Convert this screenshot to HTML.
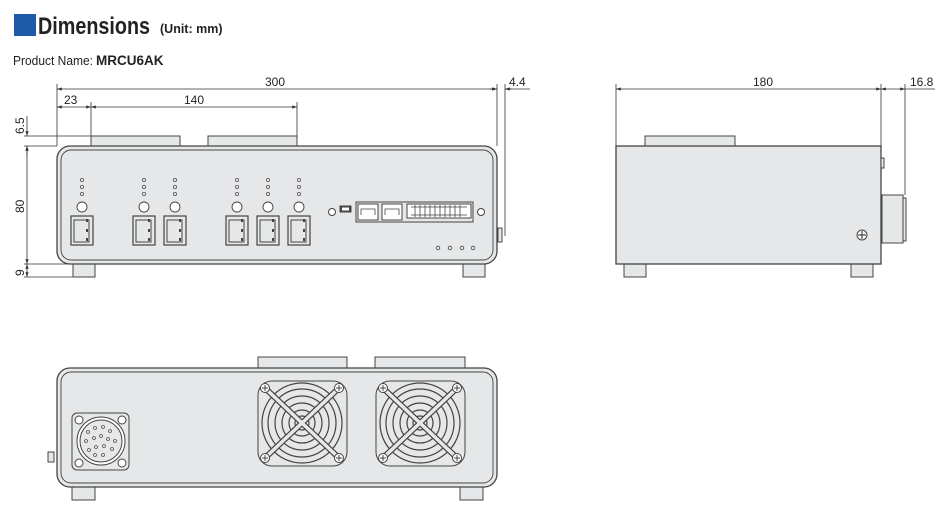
<!DOCTYPE html>
<html><head><meta charset="utf-8"><style>
html,body{margin:0;padding:0;background:#fff;}
svg{display:block;font-family:"Liberation Sans",sans-serif;}
</style></head><body>
<svg width="950" height="507" viewBox="0 0 950 507" xmlns="http://www.w3.org/2000/svg">
<defs>
<marker id="a" markerWidth="6" markerHeight="4" refX="6" refY="2" orient="auto-start-reverse"><path d="M0,0 L6,2 L0,4 z" fill="#333"/></marker>
<g id="led"><circle cx="0" cy="0" r="1.6" fill="none" stroke="#555" stroke-width="0.8"/><circle cx="0" cy="7" r="1.6" fill="none" stroke="#555" stroke-width="0.8"/><circle cx="0" cy="14" r="1.6" fill="none" stroke="#555" stroke-width="0.8"/><circle cx="0" cy="27" r="5" fill="#fff" stroke="#444" stroke-width="0.9"/><rect x="-4" y="36" width="22" height="29" fill="#e6e7e8" stroke="#444" stroke-width="1.2" transform="translate(-7,0)"/><rect x="-8" y="40" width="15" height="22" fill="none" stroke="#444" stroke-width="1"/><rect x="4" y="39" width="2" height="3" fill="#444"/><rect x="4" y="49" width="2" height="3" fill="#444"/><rect x="4" y="58" width="2" height="3" fill="#444"/></g>
<g id="fan"><rect x="-44" y="-42" width="89" height="85" rx="14" fill="#e6e7e8" stroke="#444" stroke-width="1"/>
<circle r="40" fill="none" stroke="#444" stroke-width="1.2"/><circle r="34" fill="none" stroke="#444" stroke-width="1.2"/><circle r="27" fill="none" stroke="#444" stroke-width="1.2"/><circle r="20" fill="none" stroke="#444" stroke-width="1.2"/><circle r="13" fill="none" stroke="#444" stroke-width="1.2"/><circle r="7" fill="none" stroke="#444" stroke-width="1.2"/>
<g stroke="#444" stroke-width="6" stroke-linecap="round"><line x1="-36" y1="-34" x2="36" y2="34"/><line x1="36" y1="-34" x2="-36" y2="34"/></g>
<g stroke="#e6e7e8" stroke-width="3.6" stroke-linecap="round"><line x1="-36" y1="-34" x2="36" y2="34"/><line x1="36" y1="-34" x2="-36" y2="34"/></g>
<g fill="#fff" stroke="#444" stroke-width="1"><circle cx="-37" cy="-35" r="4.5"/><circle cx="37" cy="-35" r="4.5"/><circle cx="-37" cy="35" r="4.5"/><circle cx="37" cy="35" r="4.5"/></g>
<g stroke="#444" stroke-width="1"><path d="M-40,-35h6M-37,-38v6M34,-35h6M37,-38v6M-40,35h6M-37,32v6M34,35h6M37,32v6"/></g></g>
</defs>

<!-- header -->
<rect x="14" y="14" width="22" height="22" fill="#1d5ba8"/>
<text x="38" y="34" font-size="24" font-weight="bold" fill="#222" textLength="112" lengthAdjust="spacingAndGlyphs">Dimensions</text>
<text x="160" y="33" font-size="12.5" font-weight="bold" fill="#222">(Unit: mm)</text>
<text x="13" y="65" font-size="13" fill="#222" textLength="80" lengthAdjust="spacingAndGlyphs">Product Name:</text>
<text x="96" y="65" font-size="13.5" font-weight="bold" fill="#222">MRCU6AK</text>

<g fill="none" stroke="#333" stroke-width="0.8">
<!-- front view dims -->
<line x1="57" y1="84" x2="57" y2="146"/><line x1="497" y1="84" x2="497" y2="146"/>
<line x1="57" y1="89" x2="497" y2="89" marker-start="url(#a)" marker-end="url(#a)"/>
<line x1="91" y1="102" x2="91" y2="136"/><line x1="297" y1="102" x2="297" y2="136"/>
<line x1="57" y1="107" x2="91" y2="107" marker-start="url(#a)" marker-end="url(#a)"/>
<line x1="91" y1="107" x2="297" y2="107" marker-start="url(#a)" marker-end="url(#a)"/>
<line x1="505" y1="84" x2="505" y2="236"/>
<line x1="490" y1="89" x2="497" y2="89" marker-end="url(#a)"/><line x1="512" y1="89" x2="505" y2="89" marker-end="url(#a)"/>
<line x1="505" y1="89" x2="530" y2="89"/>
<line x1="24" y1="136" x2="91" y2="136"/><line x1="24" y1="146" x2="57" y2="146"/>
<line x1="24" y1="264" x2="73" y2="264"/><line x1="24" y1="277" x2="73" y2="277"/>
<line x1="27" y1="116" x2="27" y2="136" marker-end="url(#a)"/><line x1="27" y1="156" x2="27" y2="146" marker-end="url(#a)"/>
<line x1="27" y1="146" x2="27" y2="264" marker-start="url(#a)" marker-end="url(#a)"/>
<line x1="27" y1="264" x2="27" y2="277" marker-start="url(#a)" marker-end="url(#a)"/>
<!-- side view dims -->
<line x1="616" y1="84" x2="616" y2="146"/><line x1="881" y1="84" x2="881" y2="146"/><line x1="905" y1="84" x2="905" y2="195"/>
<line x1="616" y1="89" x2="881" y2="89" marker-start="url(#a)" marker-end="url(#a)"/>
<line x1="881" y1="89" x2="905" y2="89" marker-start="url(#a)" marker-end="url(#a)"/>
<line x1="905" y1="89" x2="935" y2="89"/>
</g>
<g font-size="12" fill="#222">
<text x="265" y="86">300</text><text x="64" y="104">23</text><text x="184" y="104">140</text><text x="509" y="86">4.4</text>
<text x="753" y="86">180</text><text x="910" y="86">16.8</text>
<text transform="translate(24,134) rotate(-90)">6.5</text>
<text transform="translate(24,213) rotate(-90)">80</text>
<text transform="translate(24,276) rotate(-90)">9</text>
</g>

<!-- FRONT VIEW -->
<g stroke="#444" stroke-width="1" fill="#e6e7e8">
<rect x="91" y="136" width="89" height="10"/><rect x="208" y="136" width="89" height="10"/>
<rect x="73" y="264" width="22" height="13"/><rect x="463" y="264" width="22" height="13"/>
<rect x="498" y="228" width="4" height="14"/>
<rect x="57" y="146" width="440" height="118" rx="13" stroke-width="1.3"/>
<rect x="61" y="150" width="432" height="110" rx="10" stroke-width="0.9"/>
</g>
<use href="#led" x="82" y="180"/><use href="#led" x="144" y="180"/><use href="#led" x="175" y="180"/>
<use href="#led" x="237" y="180"/><use href="#led" x="268" y="180"/><use href="#led" x="299" y="180"/>
<g stroke="#444" fill="#fff" stroke-width="1">
<circle cx="332" cy="212" r="3.5"/><circle cx="481" cy="212" r="3.5"/>
<rect x="340" y="206" width="11" height="6" fill="#444"/><rect x="342" y="207.5" width="7" height="3" fill="#fff" stroke="none"/>
<rect x="356" y="202" width="117" height="20" fill="#e6e7e8"/>
<rect x="358" y="204" width="20" height="16"/><rect x="382" y="204" width="20" height="16"/>
<rect x="407" y="204" width="64" height="14"/>
</g>
<g stroke="#444" stroke-width="0.8" fill="none">
<path d="M361,215v-6h14v6M385,215v-6h14v6"/>
<path d="M411,207h56M411,215h56M415,205v12M420,205v12M425,205v12M430,205v12M435,205v12M440,205v12M445,205v12M450,205v12M455,205v12M460,205v12"/>
<circle cx="438" cy="248" r="1.8"/><circle cx="450" cy="248" r="1.8"/><circle cx="462" cy="248" r="1.8"/><circle cx="473" cy="248" r="1.8"/>
</g>

<!-- SIDE VIEW -->
<g stroke="#444" stroke-width="1" fill="#e6e7e8">
<rect x="645" y="136" width="90" height="10"/>
<rect x="624" y="264" width="22" height="13"/><rect x="851" y="264" width="22" height="13"/>
<rect x="616" y="146" width="265" height="118" stroke-width="1.3"/>
<rect x="881" y="158" width="3" height="10"/>
<rect x="882" y="195" width="21" height="48"/><rect x="903" y="198" width="3" height="43"/>
<circle cx="862" cy="235" r="5" fill="#fff"/>
</g>
<path d="M858,235h8M862,231v8" stroke="#444" stroke-width="1.2"/>

<!-- BACK VIEW -->
<g stroke="#444" stroke-width="1" fill="#e6e7e8">
<rect x="258" y="357" width="89" height="11"/><rect x="375" y="357" width="90" height="11"/>
<rect x="72" y="487" width="23" height="13"/><rect x="460" y="487" width="23" height="13"/>
<rect x="48" y="452" width="6" height="10"/>
<rect x="57" y="368" width="440" height="119" rx="13" stroke-width="1.3"/>
<rect x="61" y="372" width="432" height="111" rx="10" stroke-width="0.9"/>
<rect x="72" y="413" width="57" height="57" rx="5"/>
<circle cx="101" cy="441" r="24" fill="#fff"/><circle cx="101" cy="441" r="21"/>
</g>
<g fill="#fff" stroke="#444" stroke-width="1"><circle cx="79" cy="420" r="4"/><circle cx="122" cy="420" r="4"/><circle cx="79" cy="463" r="4"/><circle cx="122" cy="463" r="4"/></g>
<g fill="none" stroke="#555" stroke-width="0.8">
<circle cx="95" cy="428" r="1.5"/><circle cx="103" cy="427" r="1.5"/><circle cx="110" cy="431" r="1.5"/><circle cx="88" cy="432" r="1.5"/>
<circle cx="86" cy="441" r="1.5"/><circle cx="94" cy="438" r="1.5"/><circle cx="101" cy="436" r="1.5"/><circle cx="108" cy="439" r="1.5"/><circle cx="115" cy="441" r="1.5"/>
<circle cx="89" cy="450" r="1.5"/><circle cx="96" cy="447" r="1.5"/><circle cx="104" cy="446" r="1.5"/><circle cx="112" cy="449" r="1.5"/>
<circle cx="95" cy="455" r="1.5"/><circle cx="103" cy="455" r="1.5"/>
</g>
<use href="#fan" x="302" y="423"/><use href="#fan" x="420" y="423"/>
</svg>
</body></html>
